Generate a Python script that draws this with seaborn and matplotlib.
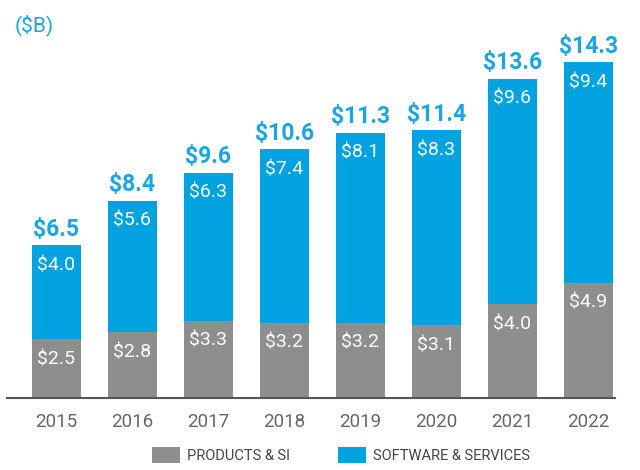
import matplotlib
matplotlib.use("Agg")
import matplotlib.pyplot as plt
import seaborn as sns
import pandas as pd
from matplotlib.patches import Patch

years = ["2015", "2016", "2017", "2018", "2019", "2020", "2021", "2022"]
products = [2.5, 2.8, 3.3, 3.2, 3.2, 3.1, 4.0, 4.9]
software = [4.0, 5.6, 6.3, 7.4, 8.1, 8.3, 9.6, 9.4]
totals = [6.5, 8.4, 9.6, 10.6, 11.3, 11.4, 13.6, 14.3]
legend_labels = ["PRODUCTS & SI", "SOFTWARE & SERVICES"]
unit_label = "($B)"

BLUE = "#00A3E0"
GRAY = "#8E8E8E"
TOTAL_BLUE = "#1AA5E6"

sns.set_theme(style="white")
plt.rcParams['font.family'] = ['Roboto', 'DejaVu Sans']

df = pd.DataFrame({"year": years, "products": products,
                   "software": software, "total": totals})
df["stack"] = df["products"] + df["software"]

fig = plt.figure(figsize=(6.4, 4.7), dpi=100)
ax = fig.add_axes([7/640, 72/470, 608/640, 378/470])

sns.barplot(data=df, x="year", y="stack", color=BLUE, width=0.645,
            saturation=1, ax=ax, order=years, linewidth=0, edgecolor="none")
sns.barplot(data=df, x="year", y="products", color=GRAY, width=0.645,
            saturation=1, ax=ax, order=years, linewidth=0, edgecolor="none")

ax.set_xlim(-0.65, 7.35)
ax.set_ylim(0, 16.1)
ax.set_xlabel("")
ax.set_ylabel("")
ax.set_yticks([])
for s in ["top", "right", "left"]:
    ax.spines[s].set_visible(False)
ax.spines["bottom"].set_color("#555555")
ax.spines["bottom"].set_linewidth(1.5)
ax.tick_params(axis="x", length=0, pad=11, labelsize=13.5, labelcolor="#666666")

for i in range(len(years)):
    p = products[i]
    s = software[i]
    t = p + s
    ax.annotate(f"${p:.1f}", xy=(i, p), xytext=(0, -20), textcoords="offset pixels",
                ha="center", va="center", color="white", fontsize=14)
    ax.annotate(f"${s:.1f}", xy=(i, t), xytext=(0, -20), textcoords="offset pixels",
                ha="center", va="center", color="white", fontsize=14)
    ax.annotate(f"${totals[i]:.1f}", xy=(i, t), xytext=(0, 16), textcoords="offset pixels",
                ha="center", va="center", color=TOTAL_BLUE, fontsize=16.5, fontweight="bold")

fig.text(15/640, 1 - 25/470, unit_label, color=TOTAL_BLUE, fontsize=15,
         ha="left", va="center")

handles = [Patch(facecolor=GRAY, edgecolor="none"), Patch(facecolor=BLUE, edgecolor="none")]
fig.legend(handles, legend_labels, loc="center", bbox_to_anchor=(341/640, 1 - 455/470),
           ncol=2, frameon=False, fontsize=10.5, handlelength=1.9, handleheight=1.4,
           handletextpad=0.5, columnspacing=3.3, labelcolor="#444444")

fig.savefig("out.png", dpi=100)
